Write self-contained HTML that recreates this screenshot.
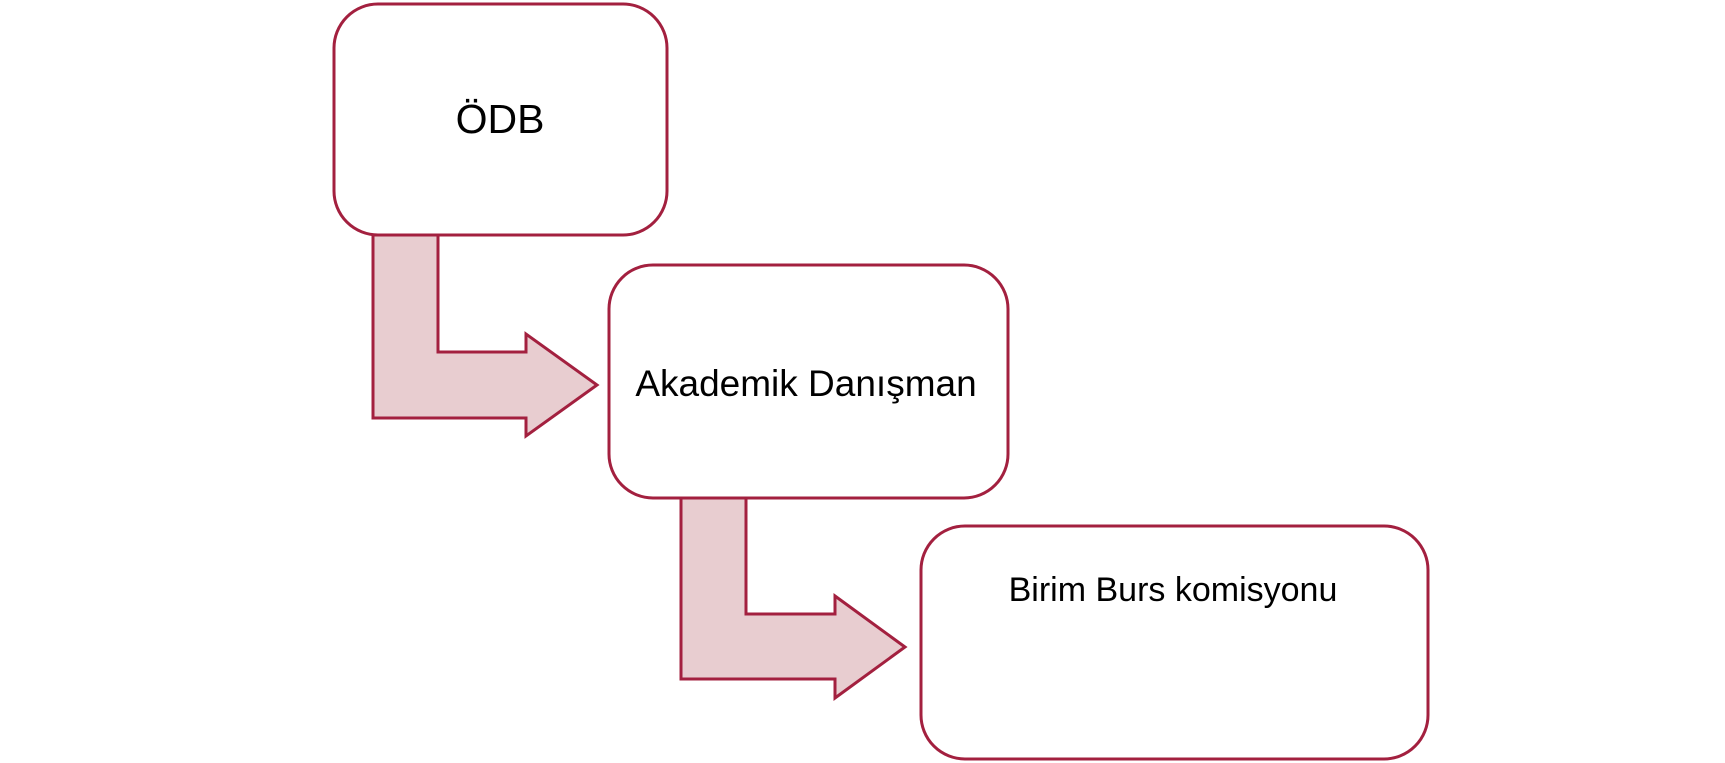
<!DOCTYPE html>
<html><head><meta charset="utf-8"><style>
html,body{margin:0;padding:0;background:#fff;width:1725px;height:763px;overflow:hidden}
</style></head><body>
<svg width="1725" height="763" viewBox="0 0 1725 763" xmlns="http://www.w3.org/2000/svg">
<g fill="#e8cdd0" stroke="#a3203f" stroke-width="3" stroke-linejoin="miter">
<path d="M373 235 L438 235 L438 352 L526 352 L526 334 L597 385 L526 436 L526 418 L373 418 Z"/>
<path d="M681 498 L746 498 L746 614 L835 614 L835 596 L905 647 L835 698 L835 679 L681 679 Z"/>
</g>
<g fill="#fff" stroke="#a3203f" stroke-width="3">
<rect x="334" y="4" width="333" height="231" rx="44"/>
<rect x="609" y="265" width="399" height="233" rx="44"/>
<rect x="921" y="526" width="507" height="233" rx="44"/>
</g>
<g font-family="'Liberation Sans',sans-serif" fill="#000" text-anchor="middle">
<text x="500" y="133" font-size="41">ÖDB</text>
<text x="806" y="396" font-size="37">Akademik Danışman</text>
<text x="1173" y="601" font-size="34">Birim Burs komisyonu</text>
</g>
</svg>
</body></html>
